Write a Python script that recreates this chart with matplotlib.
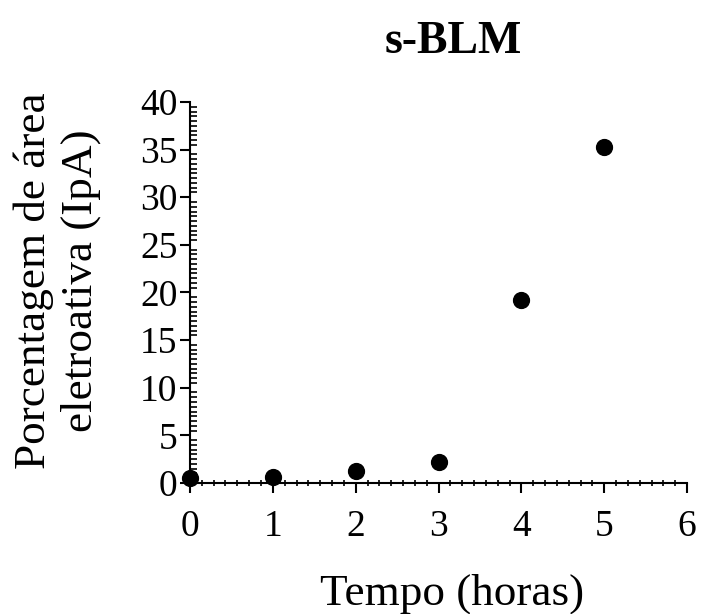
import matplotlib.pyplot as plt
from matplotlib.ticker import MultipleLocator

horas = [0, 1, 2, 3, 4, 5]
ipa = [0.5, 0.6, 1.3, 2.2, 19.2, 35.3]

plt.rcParams['font.family'] = ['Liberation Serif', 'DejaVu Serif']

fig = plt.figure(figsize=(7.05, 6.14), dpi=100)
ax = fig.add_axes([0.2695, 0.2134, 0.705, 0.6205])

ax.scatter(horas, ipa, s=130, color='black', zorder=3, clip_on=False)

ax.set_xlim(0, 6)
ax.set_ylim(0, 40)
ax.xaxis.set_major_locator(MultipleLocator(1))
ax.xaxis.set_minor_locator(MultipleLocator(1 / 7))
ax.yaxis.set_major_locator(MultipleLocator(5))
ax.yaxis.set_minor_locator(MultipleLocator(0.5))

for s in ['top', 'right']:
    ax.spines[s].set_visible(False)
for s in ['left', 'bottom']:
    ax.spines[s].set_linewidth(1.5)

ax.tick_params(axis='both', which='major', direction='out', length=7, width=1.5,
               labelsize=27)
ax.tick_params(axis='x', which='major', pad=12)
ax.tick_params(axis='y', which='major', pad=2)
ax.tick_params(axis='x', which='minor', direction='inout', length=5, width=1.2)
ax.tick_params(axis='y', which='minor', direction='in', length=5, width=1.2)

ax.set_xlabel('Tempo (horas)', fontsize=32.5, labelpad=21)
ax.set_ylabel('Porcentagem de área\neletroativa (IpA)', fontsize=32.5, labelpad=28)
ax.xaxis.label.set_x(0.528)
ax.yaxis.label.set_y(0.531)
ax.set_title('s-BLM', fontsize=33, fontweight='bold', pad=35, x=0.53)

fig.savefig('out.png', dpi=100)
